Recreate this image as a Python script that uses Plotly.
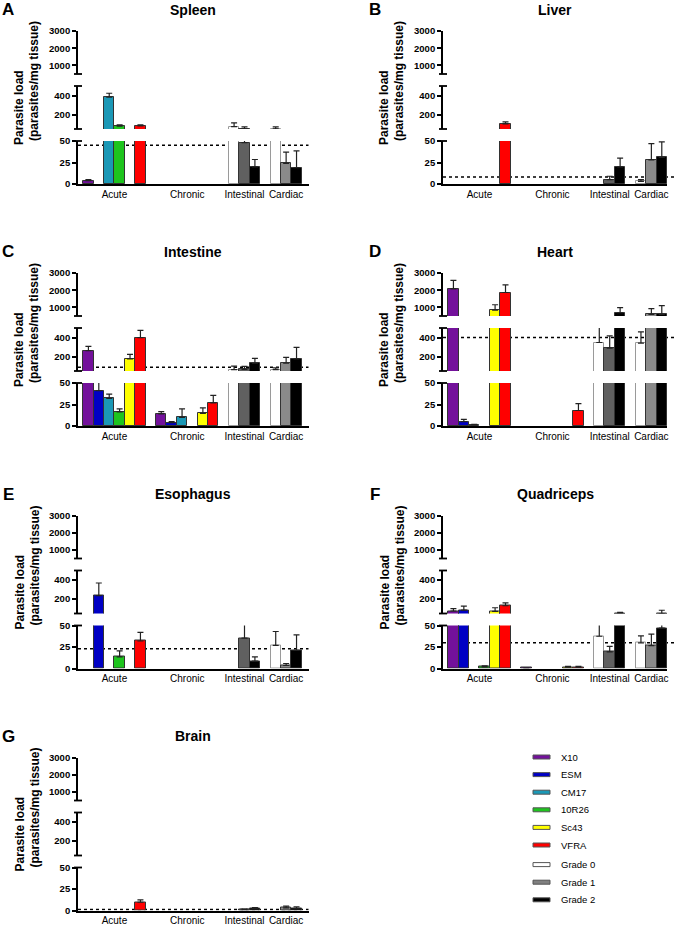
import plotly.graph_objects as go

W, H = 675, 925
N = None
FONT = "Liberation Sans, Arial, sans-serif"

# ---------------- data ----------------
groups = ["Acute", "Chronic", "Intestinal", "Cardiac"]
group_sizes = [6, 6, 3, 3]
strains = ["X10", "ESM", "CM17", "10R26", "Sc43", "VFRA"]
grades = ["Grade 0", "Grade 1", "Grade 2"]

panel_letters = ["A", "B", "C", "D", "E", "F", "G"]
panel_titles = ["Spleen", "Liver", "Intestine", "Heart", "Esophagus", "Quadriceps", "Brain"]

# order: Acute (6 strains), Chronic (6 strains), Intestinal (3 grades), Cardiac (3 grades)
spleen_mean = [4, N, 383, 80, N, 83,   N, N, N, N, N, N,   75, 48, 20,   52, 24, 19]
spleen_err = [1, N, 41, 13, N, 10,     N, N, N, N, N, N,   40, 24, 8.5,  20, 13, 19.5]

liver_mean = [N, N, N, N, N, 103,      N, N, N, N, N, N,   N, 5, 20,     3, 28, 31]
liver_err = [N, N, N, N, N, 21,        N, N, N, N, N, N,   N, 4, 10,     2, 19, 18]

intestine_mean = [262, 41, 32, 16.5, 176, 400,  14, 4, 10, N, 14.6, 27,  65, 68, 131,  65, 131, 176]
intestine_err = [45, 15, 5, 3.5, 48, 76,        2.7, 1.2, 10, N, 6.5, 8.5,  35, 30, 52,  18, 62, 121]

heart_mean = [2077, 5, 1.5, N, 846, 1865,  N, N, N, N, N, 18,   348, 290, 690,   341, 595, 595]
heart_err = [500, 2.7, 0.5, N, 308, 443,   N, N, N, N, N, 8,    207, 127, 293,   118, 330, 505]

esophagus_mean = [N, 238, N, 13.5, N, 32,  N, N, N, N, N, N,   N, 35.4, 8.5,   27, 3.5, 21]
esophagus_err = [N, 131, N, 7, N, 10,      N, N, N, N, N, N,   N, 25, 5,       16, 2.3, 18]

quadriceps_mean = [76, 86, N, 2, 72, 131,  0.6, N, N, N, 1.5, 1.5,  37.5, 19.3, 55,  29.7, 26.5, 47]
quadriceps_err = [24, 42, N, 1, 38, 31,    N, N, N, N, 1, 1,        20, 6.4, 8,      8.3, 13.5, 37]

brain_mean = [N, N, N, N, N, 9.6,   N, N, N, N, N, N,   N, 1, 2.3,   N, 3, 2.3]
brain_err = [N, N, N, N, N, 2.7,    N, N, N, N, N, N,   N, 0.5, 1.2, N, 2, 1.9]

detection_limit = [45, 8, 90, 400, 23, 30, 1.2]

seg_ranges = [(0, 50), (50, 500), (500, 3000)]
seg_ticks = [[0, 25, 50], [200, 400], [1000, 2000, 3000]]

strain_colors = ["#73119b", "#0000c4", "#1b98b6", "#1ec41e", "#ffff00", "#ff0000"]
grade_colors_intestinal = ["#ffffff", "#606060", "#000000"]
grade_colors_cardiac = ["#ffffff", "#8a8a8a", "#000000"]
legend_grade_colors = ["#ffffff", "#808080", "#000000"]

means = [spleen_mean, liver_mean, intestine_mean, heart_mean, esophagus_mean, quadriceps_mean, brain_mean]
errs = [spleen_err, liver_err, intestine_err, heart_err, esophagus_err, quadriceps_err, brain_err]

# ---------------- layout geometry (px) ----------------
row_top = [31, 273, 515.5, 757.5]
seg_px = [(110, 153), (55, 98), (0, 43)]   # bottom, middle, top segment offsets from row top
SEG_H = 43
col_x = [(78, 308.5), (443, 667)]
x_ranges = [(-1, 21.15), (-1, 20.5)]


def px2x(px):
    return px / W


def px2y(py):
    return 1 - py / H


xpos = []
tickpos = []
start = 0
for size in group_sizes:
    xs = list(range(start, start + size))
    xpos += xs
    tickpos.append(sum(xs) / size)
    start += size + 1

bar_colors = strain_colors * 2 + grade_colors_intestinal + grade_colors_cardiac
line_colors = ["#333333"] * 12 + ["#9a9a9a", "#333333", "#333333"] * 2

fig = go.Figure()
layout = dict(
    width=W, height=H,
    margin=dict(l=0, r=0, t=0, b=0, autoexpand=False),
    paper_bgcolor="white", plot_bgcolor="rgba(0,0,0,0)",
    showlegend=False, bargap=0,
    font=dict(family=FONT, color="black"),
)
shapes = []
annotations = []

for p in range(len(panel_titles)):
    col = p % 2
    row = p // 2
    T = row_top[row]
    ax0, ax1 = col_x[col]
    xi = p + 1
    xname = "x" if xi == 1 else f"x{xi}"
    xkey = "xaxis" if xi == 1 else f"xaxis{xi}"
    ynames = []
    mean = means[p]
    err = errs[p]
    for s in range(3):
        yi = p * 3 + s + 1
        yname = "y" if yi == 1 else f"y{yi}"
        ykey = "yaxis" if yi == 1 else f"yaxis{yi}"
        ynames.append(yname)
        lo, hi = seg_ranges[s]
        tol = (hi - lo) / SEG_H * 1.2
        seg_y = []
        seg_e = []
        for m, e in zip(mean, err):
            if m is None:
                seg_y.append(None)
                seg_e.append(None)
                continue
            top = m + (e or 0)
            if s == 0 or m > lo:
                seg_y.append(m)
                seg_e.append(e if (e and top > lo + tol) else None)
            elif e and top > lo + tol:
                seg_y.append(m)
                seg_e.append(e)
            else:
                seg_y.append(None)
                seg_e.append(None)
        d0, d1 = seg_px[s]
        layout[ykey] = dict(
            domain=[px2y(T + d1), px2y(T + d0)],
            range=[lo, hi], anchor=xname, automargin=False,
            tickvals=seg_ticks[s], ticks="outside", ticklen=4, tickwidth=1.5,
            tickcolor="black", showline=True, linewidth=1.8, linecolor="black",
            showgrid=False, zeroline=False, fixedrange=True,
            tickfont=dict(family=FONT, size=9.5, color="black", weight="bold"),
        )
        fig.add_trace(go.Bar(
            x=xpos, y=seg_y, width=1, xaxis=xname, yaxis=yname,
            marker=dict(color=bar_colors, line=dict(color=line_colors, width=1)),
            error_y=dict(type="data", symmetric=False, array=seg_e,
                         arrayminus=[0] * len(seg_e), color="#222222",
                         thickness=1.2, width=3),
            hoverinfo="skip",
        ))
        # break caps at segment ends
        if s == 0:
            ends = [T + d0]
        elif s == 1:
            ends = [T + d0, T + d1]
        else:
            ends = [T + d1]
        for e in ends:
            shapes.append(dict(type="line", xref="paper", yref="paper",
                               x0=px2x(ax0 - 4), x1=px2x(ax0 + 4),
                               y0=px2y(e), y1=px2y(e),
                               line=dict(color="black", width=1.8)))

    layout[xkey] = dict(
        domain=[px2x(ax0), px2x(ax1)], range=list(x_ranges[col]),
        anchor=ynames[0], automargin=False, tickvals=tickpos, ticktext=groups, ticks="",
        showline=True, linewidth=1.8, linecolor="black",
        showgrid=False, zeroline=False, fixedrange=True,
        tickfont=dict(family=FONT, size=10, color="black"),
    )

    # limit of detection dotted line
    lod = detection_limit[p]
    s_lod = 0
    for s, (lo, hi) in enumerate(seg_ranges):
        if lo <= lod < hi:
            s_lod = s
    x_end = 1 if col == 0 else (W - ax0) / (ax1 - ax0)
    shapes.append(dict(type="line", xref=f"{xname} domain", yref=ynames[s_lod],
                       x0=0, x1=x_end, y0=lod, y1=lod, layer="below",
                       line=dict(color="black", width=1.5, dash="dot")))

    # titles
    annotations.append(dict(text=f"<b>{panel_titles[p]}</b>", x=px2x((ax0 + ax1) / 2),
                            y=px2y(T - 21.5), xref="paper", yref="paper",
                            showarrow=False, xanchor="center", yanchor="middle",
                            font=dict(family=FONT, size=14, color="black")))
    annotations.append(dict(text=f"<b>{panel_letters[p]}</b>",
                            x=px2x(8 if col == 0 else 375), y=px2y(T - 21.5),
                            xref="paper", yref="paper", showarrow=False,
                            xanchor="center", yanchor="middle",
                            font=dict(family=FONT, size=17, color="black")))
    annotations.append(dict(text="<b>Parasite load</b>", x=px2x(ax0 - 59), y=px2y(T + 77),
                            xref="paper", yref="paper", showarrow=False, textangle=-90,
                            xanchor="center", yanchor="middle",
                            font=dict(family=FONT, size=12, color="black")))
    annotations.append(dict(text="<b>(parasites/mg tissue)</b>", x=px2x(ax0 - 44), y=px2y(T + 50),
                            xref="paper", yref="paper", showarrow=False, textangle=-90,
                            xanchor="center", yanchor="middle",
                            font=dict(family=FONT, size=12, color="black")))

# ---------------- legend ----------------
legend_names = strains + grades
legend_colors = strain_colors + legend_grade_colors
for i, (name, c) in enumerate(zip(legend_names, legend_colors)):
    yc = 757 + i * 17.6 + (2 if i >= 6 else 0)
    shapes.append(dict(type="rect", xref="paper", yref="paper",
                       x0=px2x(533), x1=px2x(550), y0=px2y(yc + 2), y1=px2y(yc - 2),
                       fillcolor=c, line=dict(color="#555555", width=1)))
    annotations.append(dict(text=name, x=px2x(559), y=px2y(yc), xref="paper", yref="paper",
                            showarrow=False, xanchor="left", yanchor="middle",
                            font=dict(family=FONT, size=9.5, color="black")))

layout["shapes"] = shapes
layout["annotations"] = annotations
fig.update_layout(**layout)
fig.write_html(
    "out.html",
    config={"displayModeBar": False},
    post_script="document.body.style.margin='0px';document.body.style.padding='0px';"
                "document.body.style.overflow='hidden';",
)
